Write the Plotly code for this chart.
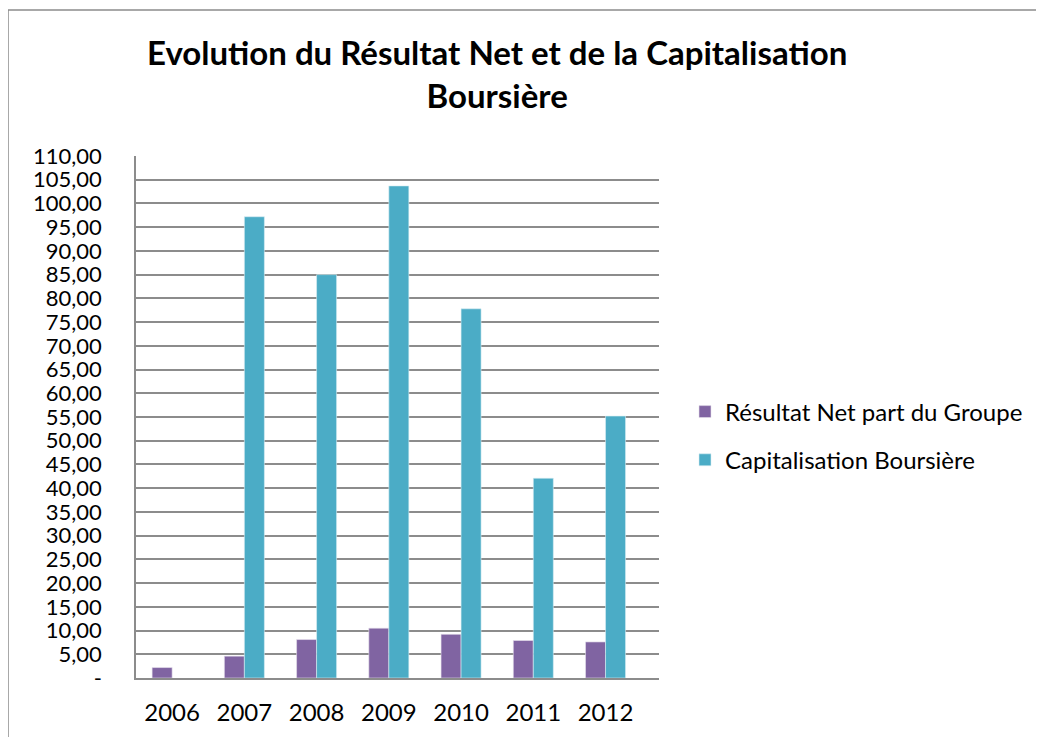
import plotly.graph_objects as go

years = ["2006", "2007", "2008", "2009", "2010", "2011", "2012"]
resultat_net = [2.2, 4.6, 8.1, 10.5, 9.2, 7.9, 7.6]
capitalisation = [None, 97.2, 85.0, 103.7, 77.8, 42.1, 55.2]
y_tickvals = list(range(0, 111, 5))
y_ticktext = ["-"] + [f"{v},00" for v in range(5, 111, 5)]

FONT = "Lato, Calibri, Carlito, sans-serif"

# page has an 8px body offset; work in reference pixels minus 8
OFF = 8
W, H = 1044 - OFF, 737 - OFF
PL, PR, PT, PB = 136 - OFF, 659 - OFF, 156 - OFF, 678 - OFF


def px(xr):
    return (xr - OFF - PL) / (PR - PL)


def py(yr):
    return (PB - (yr - OFF)) / (PB - PT)


fig = go.Figure()
fig.add_trace(go.Bar(x=years, y=resultat_net, name="Résultat Net part du Groupe",
                     legendgroup="a",
                     marker=dict(color="#8064A2", line=dict(color="#E6E0EC", width=0.6))))
fig.add_trace(go.Bar(x=years, y=capitalisation, name="Capitalisation Boursière",
                     legendgroup="b",
                     marker=dict(color="#4BACC6", line=dict(color="#DAEEF3", width=0.6))))

fig.update_layout(
    width=W, height=H,
    margin=dict(l=PL, r=W - PR, t=PT, b=H - PB),
    paper_bgcolor="white", plot_bgcolor="white",
    barmode="group", bargap=0.446, bargroupgap=0,
    font=dict(family=FONT, color="black"),
    showlegend=True,
    legend=dict(x=px(685), y=py(436), xref="paper", yref="paper",
                xanchor="left", yanchor="middle",
                font=dict(size=24, family=FONT, color="black"),
                itemwidth=30, tracegroupgap=14, traceorder="grouped"),
    xaxis=dict(type="category", range=[-0.5, 6.74], showgrid=False,
               showline=True, linecolor="#8c8c8c", linewidth=1.5,
               ticks="", tickfont=dict(size=24, family=FONT), ticklabelstandoff=12),
    yaxis=dict(range=[0, 110], tickvals=y_tickvals, ticktext=y_ticktext,
               showgrid=True, gridcolor="#8c8c8c", gridwidth=1.5,
               showline=True, linecolor="#8c8c8c", linewidth=1.5,
               ticks="", tickfont=dict(size=22, family=FONT), ticklabelstandoff=28,
               zeroline=False),
)

fig.add_annotation(text="<b>Evolution du Résultat Net et de la Capitalisation<br>Boursière</b>",
                   xref="paper", yref="paper",
                   x=px(497), y=py(73),
                   xanchor="center", yanchor="middle", showarrow=False,
                   font=dict(size=33, family=FONT, color="black"))

# outer chart border
fig.add_shape(type="rect", xref="paper", yref="paper",
              x0=px(8), x1=px(1100), y0=py(800), y1=py(10),
              line=dict(color="#8c8c8c", width=1.5), fillcolor="rgba(0,0,0,0)", layer="below")

fig.write_html("out.html")
